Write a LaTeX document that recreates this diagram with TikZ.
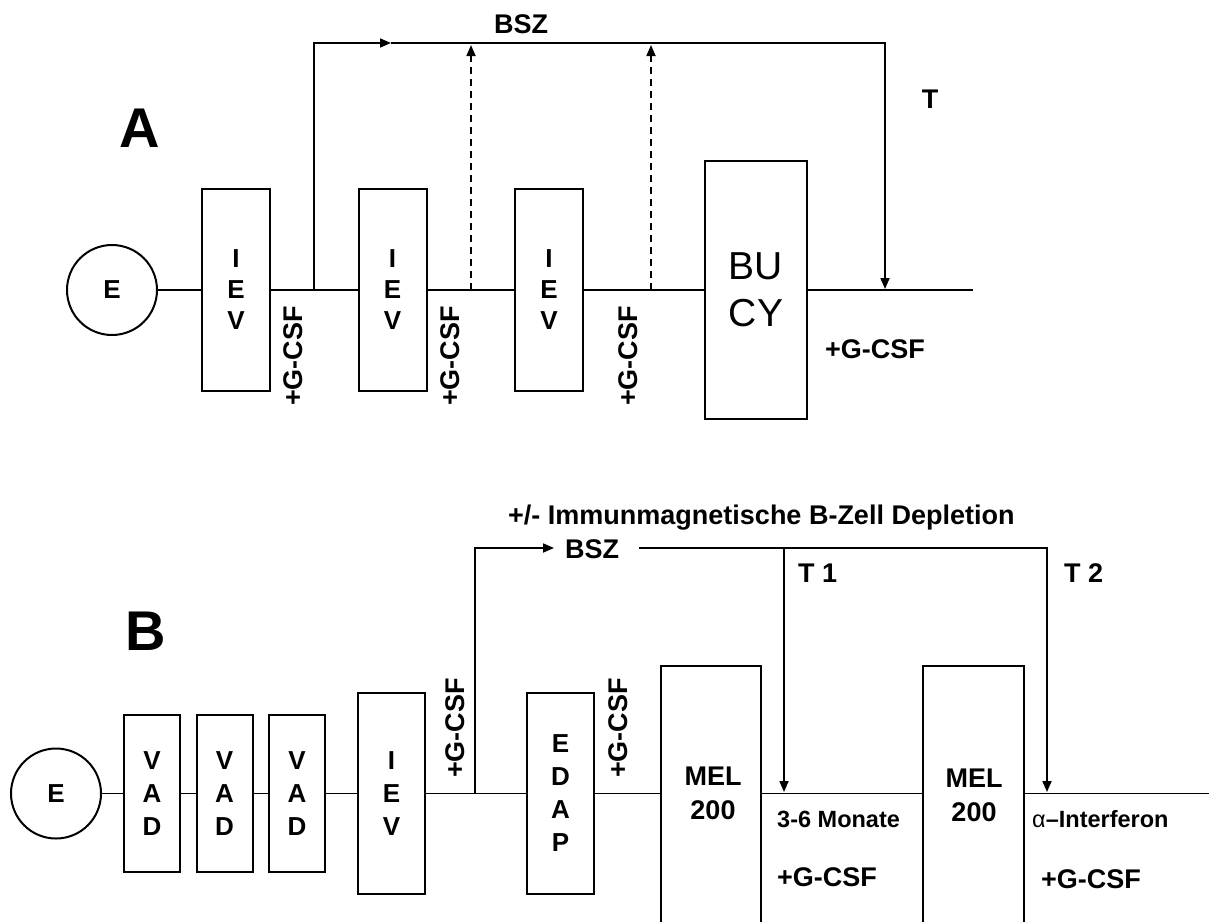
\documentclass[tikz,border=0pt]{standalone}
\usepackage{fontspec}
\setmainfont{Liberation Sans}
\usetikzlibrary{arrows.meta,calc}
\begin{document}
\begin{tikzpicture}[x=1pt,y=-1pt,
  box/.style={draw,line width=2pt,inner sep=0pt,align=center,font=\bfseries\fontsize{26}{31}\selectfont},
  boxb/.style={box,font=\bfseries\fontsize{26}{33}\selectfont},
  circ/.style={draw,circle,line width=2pt,inner sep=0pt,minimum size=90pt,font=\bfseries\fontsize{26}{26}\selectfont},
  ln/.style={line width=1.7pt},
  arr/.style={ln,-{Triangle[length=11pt,width=9pt]}},
  dsh/.style={arr,dash pattern=on 7pt off 5pt},
  lbl/.style={inner sep=0pt,font=\bfseries\fontsize{27}{27}\selectfont},
  sml/.style={inner sep=0pt,font=\bfseries\fontsize{23.5}{23.5}\selectfont},
  big/.style={inner sep=0pt,font=\bfseries\fontsize{56}{56}\selectfont},
  ]
\useasboundingbox (0,0) rectangle (1209,921);
\clip (0,0) rectangle (1209,921);

% ---------------- Panel A ----------------
\node[big,anchor=base] (labA) at (140,147) {A};
\node[circ] (EA) at (112,290) {E};
\node[box,minimum width=68pt,minimum height=202pt] (a1) at (236,290) {I\\E\\V};
\node[box,minimum width=68pt,minimum height=202pt] (a2) at (392.5,290) {I\\E\\V};
\node[box,minimum width=68pt,minimum height=202pt] (a3) at (549,290) {I\\E\\V};
\node[box,minimum width=102pt,minimum height=258pt,font=\fontsize{39}{47}\selectfont] (bucy) at (756,290) {BU\\CY};
\coordinate (endA) at (973,290);
\draw[ln] (EA) -- (a1);
\draw[ln] (a1) -- (a2);
\draw[ln] (a2) -- (a3);
\draw[ln] (a3) -- (bucy);
\draw[ln] (bucy) -- (endA);

\coordinate (brA) at (314,290);
\coordinate (bszTipA) at (391,43);
\coordinate (tA) at (885,289);
\draw[arr] (brA) |- (bszTipA);
\draw[arr] (bszTipA) -| (tA);
\coordinate (d1s) at (471,290);
\coordinate (d1e) at (471,45);
\coordinate (d2s) at (651,290);
\coordinate (d2e) at (651,45);
\draw[dsh] (d1s) -- (d1e);
\draw[dsh] (d2s) -- (d2e);

\node[lbl,anchor=base] (bszA) at (521,33) {BSZ};
\node[lbl,anchor=base] (tlabA) at (930,108) {T};
\node[lbl,rotate=90] (gA1) at (293,356) {+G-CSF};
\node[lbl,rotate=90] (gA2) at (450,356) {+G-CSF};
\node[lbl,rotate=90] (gA3) at (628,356) {+G-CSF};
\node[lbl,anchor=base] (gA4) at (875,358) {+G-CSF};

% ---------------- Panel B ----------------
\node[big,anchor=base] (labB) at (146,650) {B};
\node[circ] (EB) at (56,793.5) {E};
\node[boxb,minimum width=56pt,minimum height=157pt] (v1) at (152,793.5) {V\\A\\D};
\node[boxb,minimum width=56pt,minimum height=157pt] (v2) at (224.5,793.5) {V\\A\\D};
\node[boxb,minimum width=56pt,minimum height=157pt] (v3) at (297,793.5) {V\\A\\D};
\node[boxb,minimum width=67pt,minimum height=201pt] (iev) at (391.5,793.5) {I\\E\\V};
\node[boxb,minimum width=67pt,minimum height=201pt] (edap) at (560.5,793.5) {E\\D\\A\\P};
\node[box,minimum width=100pt,minimum height=320pt,anchor=north] (mel1) at (711,665) {};
\node[box,minimum width=101pt,minimum height=320pt,anchor=north] (mel2) at (973.5,665) {};
\node[lbl,anchor=base] (mel1a) at (713,785) {MEL};
\node[lbl,anchor=base] (mel1b) at (713,819) {200};
\node[lbl,anchor=base] (mel2a) at (974,787) {MEL};
\node[lbl,anchor=base] (mel2b) at (974,821) {200};
\coordinate (endB) at (1209,793.5);

\draw[ln] (EB) -- (v1);
\draw[ln] (v1) -- (v2);
\draw[ln] (v2) -- (v3);
\draw[ln] (v3) -- (iev);
\draw[ln] (iev) -- (edap);
\draw[ln] (edap.east) -- (edap.east -| mel1.west);
\draw[ln] (mel1.east |- edap.east) -- (mel2.west |- edap.east);
\draw[ln] (mel2.east |- edap.east) -- (endB);

\coordinate (brB) at (475,793.5);
\coordinate (bszIn) at (554,548);
\coordinate (bszOut) at (639,548);
\coordinate (t1top) at (784,548);
\coordinate (t1end) at (784,792);
\coordinate (t2end) at (1047,792);
\draw[arr] (brB) |- (bszIn);
\draw[arr] (bszOut) -| (t2end);
\draw[arr] (t1top) -- (t1end);

\node[lbl,anchor=base west] (immun) at (508,524) {+/- Immunmagnetische B-Zell Depletion};
\node[lbl,anchor=base west] (bszB) at (565,558) {BSZ};
\node[lbl,anchor=base west] (t1) at (798,582) {T 1};
\node[lbl,anchor=base west] (t2) at (1064,582) {T 2};
\node[lbl,rotate=90] (gB1) at (455,728) {+G-CSF};
\node[lbl,rotate=90] (gB2) at (618,728) {+G-CSF};
\node[sml,anchor=base west] (mon) at (777,827) {3-6 Monate};
\node[lbl,anchor=base west] (gB3) at (777,886) {+G-CSF};
\node[sml,anchor=base west] (ifn) at (1032,827) {{\mdseries α}–Interferon};
\node[lbl,anchor=base west] (gB4) at (1041,888) {+G-CSF};
\end{tikzpicture}
\end{document}
